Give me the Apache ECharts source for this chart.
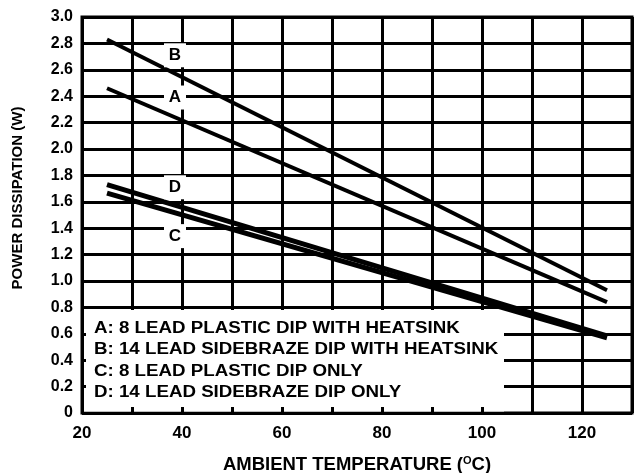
<!DOCTYPE html>
<html>
<head>
<meta charset="utf-8">
<script src="https://cdn.jsdelivr.net/npm/echarts@6/dist/echarts.min.js"></script>
<style>
  html, body { margin: 0; padding: 0; background: #fff; }
  #chart { width: 636px; height: 473px; }
</style>
</head>
<body>
<div id="chart"></div>
<script>
// Power derating curves: allowed dissipation vs ambient temperature
const temps  = [25, 125];
const curveA = [2.46, 0.84];   // 8 lead plastic DIP with heatsink
const curveB = [2.83, 0.93];   // 14 lead sidebraze DIP with heatsink
const curveC = [1.665, 0.57];  // 8 lead plastic DIP only
const curveD = [1.73, 0.585];  // 14 lead sidebraze DIP only

// Curve tags written on the plot
const tagNames = ['A', 'B', 'C', 'D'];
const tagTemp  = [38.6, 38.6, 38.6, 38.6];
const tagPower = [2.39, 2.71, 1.34, 1.71];

const xLabelValues = [20, 40, 60, 80, 100, 120];
const legendLines = [
  'A: 8 LEAD PLASTIC DIP WITH HEATSINK',
  'B: 14 LEAD SIDEBRAZE DIP WITH HEATSINK',
  'C: 8 LEAD PLASTIC DIP ONLY',
  'D: 14 LEAD SIDEBRAZE DIP ONLY'
];

const FONT = '"Liberation Sans", Arial, sans-serif';
const G = { left: 82, right: 4, top: 17, bottom: 60 };

const chart = echarts.init(document.getElementById('chart'), null, { renderer: 'canvas' });

function pairs(xs, ys) { return xs.map((x, i) => [x, ys[i]]); }

function curve(name, ys, width) {
  return {
    name, type: 'line', xAxisIndex: 1, yAxisIndex: 1, z: 2,
    data: pairs(temps, ys), symbol: 'none', animation: false,
    lineStyle: { color: '#000', width: width, cap: 'butt' }
  };
}

const baseGraphic = [
  { id: 'legendBox', type: 'rect', z: 1, silent: true,
    shape: { x: 84, y: 310, width: 420, height: 101.5 },
    style: { fill: '#fff' } },
  { id: 'legendText', type: 'text', z: 2, silent: true, x: 94, y: 318, scaleX: 1.17,
    style: { text: legendLines.join('\n'), fill: '#000', font: 'bold 16px ' + FONT, lineHeight: 21.3 } },
  { id: 'yTitle', type: 'text', z: 2, silent: true, x: 18, y: 198, rotation: Math.PI / 2,
    style: { text: 'POWER DISSIPATION (W)', fill: '#000', font: 'bold 15px ' + FONT,
             textAlign: 'center', textVerticalAlign: 'middle' } },
  { id: 'xTitle', type: 'text', z: 2, silent: true, x: 357, y: 465,
    style: {
      text: '{t|AMBIENT TEMPERATURE (}{s|O}{t|C)}',
      textAlign: 'center', textVerticalAlign: 'middle',
      rich: {
        t: { fontFamily: FONT, fontWeight: 'bold', fontSize: 18.5, fill: '#000', lineHeight: 20 },
        s: { fontFamily: FONT, fontWeight: 'bold', fontSize: 11, fill: '#000', lineHeight: 20, padding: [0, 0, 9, 0] }
      }
    } }
];

const option = {
  animation: false,
  grid: { left: G.left, right: G.right, top: G.top, bottom: G.bottom,
          show: true, borderColor: '#000', borderWidth: 3, backgroundColor: 'transparent' },
  xAxis: [
    { type: 'value', position: 'top', min: 20, max: 130, interval: 10, z: 0,
      axisLine: { show: false }, axisTick: { show: false }, axisLabel: { show: false },
      splitLine: { show: true, lineStyle: { color: '#000', width: 3 } } },
    { type: 'value', position: 'bottom', min: 20, max: 130, interval: 10, z: 3,
      axisLine: { show: false },
      axisTick: { show: true, inside: true, length: 6, lineStyle: { color: '#000', width: 3 } },
      axisLabel: { show: true, margin: 12, color: '#000', fontFamily: FONT, fontWeight: 'bold', fontSize: 17,
        formatter: v => xLabelValues.indexOf(v) >= 0 ? String(v) : '' },
      splitLine: { show: false } }
  ],
  yAxis: [
    { type: 'value', position: 'right', min: 0, max: 3, interval: 0.2, z: 0,
      axisLine: { show: false }, axisTick: { show: false }, axisLabel: { show: false },
      splitLine: { show: true, lineStyle: { color: '#000', width: 3 } } },
    { type: 'value', position: 'left', min: 0, max: 3, interval: 0.2, z: 3,
      axisLine: { show: false },
      axisTick: { show: true, inside: true, length: 4, lineStyle: { color: '#000', width: 3 } },
      axisLabel: { show: true, margin: 9, color: '#000', fontFamily: FONT, fontWeight: 'bold', fontSize: 16,
        formatter: v => (Math.abs(v) < 1e-9 ? '0' : v.toFixed(1)) },
      splitLine: { show: false } }
  ],
  series: [
    curve('A', curveA, 4),
    curve('B', curveB, 4),
    curve('C', curveC, 5),
    curve('D', curveD, 5)
  ],
  graphic: baseGraphic
};

chart.setOption(option);

// Curve tags: white boxes that break the grid, placed through the axis scales
const tagGraphic = tagNames.map((n, i) => {
  const p = chart.convertToPixel({ xAxisIndex: 1, yAxisIndex: 1 }, [tagTemp[i], tagPower[i]]);
  return {
    id: 'tag' + n, type: 'group', x: p[0], y: p[1], z: 4, silent: true,
    children: [
      { type: 'rect', shape: { x: -11, y: -12, width: 22, height: 24 }, style: { fill: '#fff' }, z: 4 },
      { type: 'text', z: 5,
        style: { text: n, fill: '#000', font: 'bold 17px ' + FONT, textAlign: 'center', textVerticalAlign: 'middle' } }
    ]
  };
});
chart.setOption({ graphic: baseGraphic.concat(tagGraphic) });
</script>
</body>
</html>
